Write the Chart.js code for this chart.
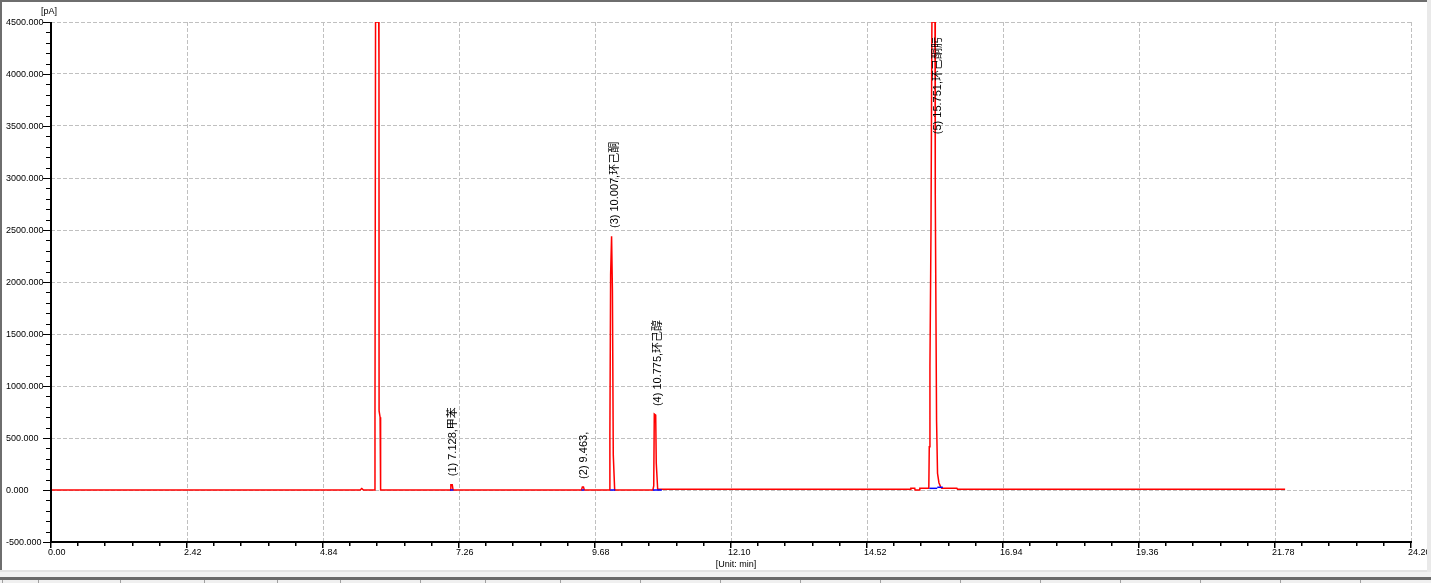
<!DOCTYPE html>
<html><head><meta charset="utf-8">
<script src="https://cdn.jsdelivr.net/npm/chart.js@4.4.0/dist/chart.umd.min.js"></script>
<style>html,body{margin:0;padding:0;background:#fff;overflow:hidden}canvas{display:block}</style>
</head><body>
<canvas id="c" width="1431" height="583"></canvas>
<script>
// ---- data ----
const traceTime = [0, 5.50, 5.53, 5.56, 5.755, 5.765, 5.775, 5.832, 5.836, 5.838, 5.856, 5.86, 5.87,
  7.10, 7.115, 7.14, 7.155,
  9.44, 9.455, 9.475, 9.49,
  9.935, 9.945, 9.958, 9.975, 9.99, 10.005, 10.03,
  10.71, 10.725, 10.735, 10.76, 10.77, 10.795, 10.80,
  15.29, 15.30, 15.37, 15.375, 15.455, 15.46, 15.62, 15.628, 15.64, 15.658, 15.675, 15.73, 15.735,
  15.758, 15.775, 15.80, 15.83, 15.85, 15.95, 16.12, 16.13, 21.96];
const traceSignal = [0, 0, 15, 0, 0, 740, 4500, 4500, 4100, 760, 700, 30, 0,
  0, 50, 50, 0,
  0, 30, 30, 0,
  0, 540, 2070, 2440, 1920, 340, 0,
  0, 40, 730, 720, 260, 10, 8,
  8, 16, 16, 0, 0, 16, 16, 415, 1190, 2450, 4500, 4500, 2840,
  660, 160, 70, 30, 16, 16, 16, 8, 8];

const baseStartTime = [7.10, 9.44, 9.95, 10.71, 15.63, 15.77];
const baseEndTime = [7.16, 9.49, 10.04, 10.87, 15.77, 15.87];
const baseStartSignal = [0, 0, 0, 0, 16, 26];
const baseEndSignal = [0, 0, 0, 0, 16, 26];

const peakLabels = ['(1) 7.128,甲苯', '(2) 9.463,', '(3) 10.007,环己酮', '(4) 10.775,环己醇', '(5) 15.751,环己酮肟'];
const peakTimes = [7.128, 9.463, 10.007, 10.775, 15.751];
const peakHeights = [55, 30, 2442, 730, 4500];

const xTickValues = [0, 2.42, 4.84, 7.26, 9.68, 12.10, 14.52, 16.94, 19.36, 21.78, 24.2];
const xTickLabels = ['0.00', '2.42', '4.84', '7.26', '9.68', '12.10', '14.52', '16.94', '19.36', '21.78', '24.20'];
const yTickValues = [-500, 0, 500, 1000, 1500, 2000, 2500, 3000, 3500, 4000, 4500];
const yTickLabels = ['-500.000', '0.000', '500.000', '1000.000', '1500.000', '2000.000', '2500.000', '3000.000', '3500.000', '4000.000', '4500.000'];
const yUnit = '[pA]';
const xUnit = '[Unit: min]';

// ---- build datasets ----
const trace = traceTime.map((t, i) => ({x: t, y: traceSignal[i]}));
const baseDatasets = baseStartTime.map((t, i) => ({
  data: [{x: t, y: baseStartSignal[i]}, {x: baseEndTime[i], y: baseEndSignal[i]}],
  borderColor: '#0000ff', borderWidth: 1.5, pointRadius: 0, tension: 0, order: 0
}));

const AX_FONT = "9px 'Liberation Sans', Arial, sans-serif";
const LBL_FONT = "11px 'Liberation Sans', Arial, 'Noto Sans CJK SC', sans-serif";

const decor = {
  id: 'decor',
  afterDatasetsDraw(chart) {
    const ctx = chart.ctx, xs = chart.scales.x, ys = chart.scales.y, ca = chart.chartArea;
    ctx.save();
    ctx.fillStyle = '#000';
    ctx.font = LBL_FONT;
    ctx.textAlign = 'left';
    ctx.textBaseline = 'middle';
    peakLabels.forEach((txt, i) => {
      const px = xs.getPixelForValue(peakTimes[i]) + 1.5;
      let bottom = ys.getPixelForValue(peakHeights[i]) - 8;
      const w = ctx.measureText(txt).width;
      if (bottom - w < ca.top + 11) bottom = ca.top + 11 + w + 4;
      ctx.save();
      ctx.translate(px, bottom);
      ctx.rotate(-Math.PI / 2);
      ctx.fillText(txt, 0, 0);
      ctx.restore();
    });
    ctx.restore();
  },
  afterDraw(chart) {
    const ctx = chart.ctx, xs = chart.scales.x, ys = chart.scales.y, ca = chart.chartArea;
    ctx.save();
    ctx.fillStyle = '#000';
    // axis lines
    ctx.fillRect(ca.left - 1, ca.top, 2, ca.bottom - ca.top + 1);
    ctx.fillRect(ca.left - 1, ca.bottom - 1, ca.right - ca.left + 2, 2);
    // y ticks
    for (let v = -500; v <= 4500; v += 100) {
      const py = Math.round(ys.getPixelForValue(v));
      const major = (v % 500 === 0);
      const len = major ? 7 : 4;
      ctx.fillRect(ca.left - 1 - len, py, len, 1);
    }
    // x ticks (minor every fifth of major step)
    const step = 2.42 / 5;
    for (let k = 0; k <= 50; k++) {
      const px = Math.round(xs.getPixelForValue(k * step));
      const len = (k % 5 === 0) ? 6 : 4;
      ctx.fillRect(px - 1, ca.bottom, 1.5, len);
    }
    ctx.font = AX_FONT;
    ctx.textBaseline = 'middle';
    ctx.textAlign = 'left';
    yTickValues.forEach((v, i) => {
      ctx.fillText(yTickLabels[i], 6, ys.getPixelForValue(v) + 1);
    });
    xTickValues.forEach((v, i) => {
      ctx.fillText(xTickLabels[i], xs.getPixelForValue(v) - 3, ca.bottom + 11);
    });
    ctx.textAlign = 'center';
    ctx.fillText(yUnit, 49, 12);
    ctx.fillText(xUnit, 736, 565);
    // window frame
    ctx.fillStyle = '#6e6e6e';
    ctx.fillRect(0, 0, 1427, 2);
    ctx.fillRect(0, 0, 2, 571);
    ctx.fillStyle = '#e9e9e9';
    ctx.fillRect(1427, 0, 4, 583);
    ctx.fillStyle = '#e3e3e3';
    ctx.fillRect(0, 570, 1427, 2);
    ctx.fillStyle = '#f2f2f2';
    ctx.fillRect(0, 572, 1431, 5);
    ctx.fillStyle = '#6a6a6a';
    ctx.fillRect(0, 577, 1431, 3);
    ctx.fillStyle = '#f0f0f0';
    ctx.fillRect(0, 580, 1431, 3);
    ctx.fillStyle = '#a0a0a0';
    [2, 38, 120, 204, 277, 340, 420, 485, 560, 640, 720, 800, 880, 960, 1040, 1120, 1200, 1280, 1360].forEach(x => ctx.fillRect(x, 580, 1, 3));
    ctx.restore();
  }
};

new Chart(document.getElementById('c'), {
  type: 'line',
  data: {
    datasets: [...baseDatasets, {
      data: trace, borderColor: '#ff0000', borderWidth: 1.5, pointRadius: 0, tension: 0, order: 1
    }]
  },
  options: {
    responsive: false, animation: false, devicePixelRatio: 1,
    layout: {padding: {top: 22, right: 20, left: 0, bottom: 0}},
    plugins: {legend: {display: false}, tooltip: {enabled: false}},
    scales: {
      x: {
        type: 'linear', min: 0, max: 24.2,
        afterBuildTicks: s => { s.ticks = xTickValues.map(v => ({value: v})); },
        afterFit: s => { s.height = 41; },
        ticks: {display: false},
        grid: {color: '#c0c0c0', lineWidth: 1, drawTicks: false},
        border: {display: false, dash: [4, 2]}
      },
      y: {
        type: 'linear', min: -500, max: 4500,
        afterBuildTicks: s => { s.ticks = yTickValues.map(v => ({value: v})); },
        afterFit: s => { s.width = 51; },
        ticks: {display: false},
        grid: {color: '#c0c0c0', lineWidth: 1, drawTicks: false},
        border: {display: false, dash: [4, 2]}
      }
    }
  },
  plugins: [decor]
});
</script>
</body></html>
